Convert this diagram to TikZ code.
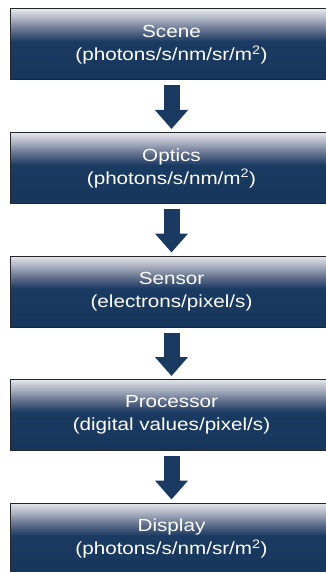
\documentclass[tikz,border=0pt]{standalone}
\usepackage{fontspec}
\setmainfont[FakeStretch=1.18]{Liberation Sans}
\usepackage{tikz}
\usetikzlibrary{arrows.meta,positioning}
\usepackage{xcolor}

\definecolor{navy}{RGB}{26,58,97}
\definecolor{navydark}{RGB}{23,54,92}
\definecolor{fademid}{RGB}{96,111,140}
\definecolor{fadelight}{RGB}{162,169,186}
\definecolor{fadetop}{RGB}{228,230,236}
\pgfdeclareverticalshading{boxfade}{100bp}{color(0bp)=(navydark); color(25bp)=(navydark);
  color(52bp)=(navy); color(60bp)=(fademid); color(67bp)=(fadelight);
  color(75bp)=(fadetop); color(100bp)=(fadetop)}

\begin{document}
\begin{tikzpicture}[x=1pt,y=1pt,node distance=123.5pt,
  stage/.style={rectangle, shading=boxfade, draw=black!85, line width=1pt,
    minimum width=322pt, minimum height=71pt, inner sep=0pt, align=center,
    text=white, font=\fontsize{17.5}{23}\selectfont},
  flow/.style={-{Triangle[width=32pt,length=19pt]}, line width=16pt, draw=navy,
    shorten <=5pt, shorten >=3pt}]
\useasboundingbox (0,0) rectangle (325,-572);
\node [stage] (scene) at (171.5,-44.5) {Scene\\(photons/s/nm/sr/m\textsuperscript{2})};
\node [stage] (optics) [below of=scene] {Optics\\(photons/s/nm/m\textsuperscript{2})};
\node [stage] (sensor) [below of=optics] {Sensor\\(electrons/pixel/s)};
\node [stage] (processor) [below of=sensor] {Processor\\(digital values/pixel/s)};
\node [stage] (display) [below of=processor] {Display\\(photons/s/nm/sr/m\textsuperscript{2})};
\path (scene) edge [flow] (optics);
\path (optics) edge [flow] (sensor);
\path (sensor) edge [flow] (processor);
\path (processor) edge [flow] (display);
\end{tikzpicture}
\end{document}
